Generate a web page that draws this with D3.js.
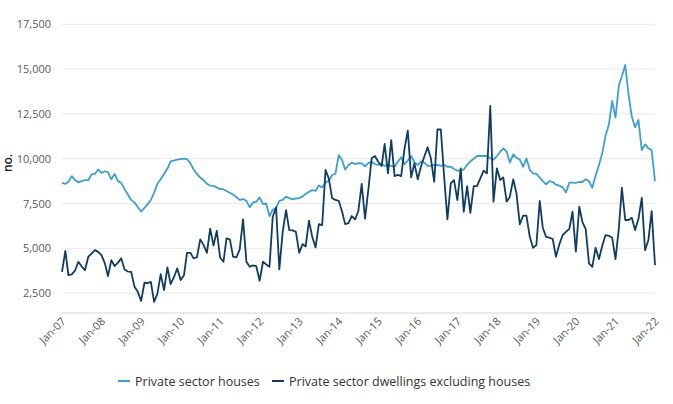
<!DOCTYPE html>
<html><head><meta charset="utf-8">
<script src="https://cdn.jsdelivr.net/npm/d3@7"></script>
<style>body{margin:0;background:#fff;}svg{display:block;font-family:"Open Sans","Noto Sans",sans-serif;}</style>
</head><body>
<svg id="c" width="673" height="404"></svg>
<script>
const startMonth = "2007-01";
const seriesNames = ["Private sector houses", "Private sector dwellings excluding houses"];
const houses = [
8650,8600,8700,9030,8810,8680,8750,8810,8800,9130,9150,9400,
9200,9300,9250,8850,9150,8750,8650,8300,8000,7700,7550,7300,
7050,7250,7450,7700,8100,8600,8850,9150,9450,9850,9900,9950,
9980,10000,9980,9750,9400,9150,8950,8800,8600,8500,8480,8400,
8300,8300,8200,8100,8000,7850,7700,7750,7650,7300,7550,7600,
7840,7470,7500,6800,7150,7250,7650,7700,7880,7800,7730,7780,
7800,7900,8030,8150,8250,8200,8510,8400,8660,8770,9090,9150,
10200,9920,9400,9650,9780,9700,9750,9740,9580,9750,9830,9700,
9650,9700,9600,9650,9600,9550,9830,10080,9700,9900,10150,9800,
9650,9850,9780,9600,9600,9650,9650,9600,9650,9550,9550,9430,
9330,9330,9400,9650,9850,10000,10150,10150,10150,10150,10020,9950,
10150,10390,10580,10400,9780,10240,10050,9950,9550,10020,9370,9180,
9150,8950,8750,8570,8750,8700,8550,8500,8400,8120,8660,8660,
8650,8700,8700,8850,8750,8380,9050,9650,10300,11300,11900,13220,
12290,14100,14600,15230,13600,12340,11750,12160,10480,10800,10580,10480,
8750];
const dwellings = [
3690,4850,3500,3550,3750,4250,4000,3780,4530,4700,4900,4800,
4620,4160,3450,4340,4010,4200,4440,3820,3700,3690,2850,2570,
2070,3080,3050,3130,2010,2480,3560,2670,3930,3000,3400,3880,
3230,3500,4750,4750,4440,4500,5500,5190,4750,6100,5150,5970,
4490,4250,5550,5500,4530,4500,4940,6610,4250,3970,4050,4000,
3190,4250,4100,3970,6760,7280,3820,5920,7130,6020,6000,5920,
4750,5230,5100,6540,5640,5050,6350,6300,9370,8900,7790,7700,
7650,7040,6350,6400,6800,6610,7080,8600,6650,8250,10020,10150,
9830,9590,10820,9180,11040,9030,9100,9030,10580,11560,8960,9740,
8850,9590,10110,10640,10020,8710,11630,11630,8990,6610,8620,8810,
7690,9460,7040,8470,6980,8470,8470,8900,9330,9180,12940,7600,
9460,8810,8960,7600,7880,8850,8070,6340,6820,6820,5640,5030,
5180,7640,6150,5640,5600,5520,4530,5220,5740,5920,6070,7040,
4810,7320,6480,6070,4160,3970,5030,4400,5140,5740,5700,5590,
4400,6110,8380,6580,6580,6700,6020,6630,7820,4900,5460,7080,
4060];
const yTicks = [2500,5000,7500,10000,12500,15000,17500];
const xTickYears = [2007,2008,2009,2010,2011,2012,2013,2014,2015,2016,2017,2018,2019,2020,2021,2022];
const colors = ["#3c9fd2", "#103d5f"];

(function () {
const svg = d3.select("#c");
const mLeft = 62, mRight = 655, mTop = 24.3, mBottom = 313;
const t0 = d3.timeParse("%Y-%m")(startMonth);
const dates = houses.map((_, i) => d3.timeMonth.offset(t0, i));
const x = d3.scaleTime().domain([dates[0], dates[dates.length-1]]).range([mLeft, mRight]);
const y = d3.scaleLinear().domain([1390, 17500]).range([mBottom, mTop]);

svg.append("g").selectAll("line").data(yTicks).join("line")
  .attr("x1", mLeft).attr("x2", mRight)
  .attr("y1", d => y(d)).attr("y2", d => y(d))
  .attr("stroke", "#e8e8e8").attr("stroke-width", 1);
svg.append("line").attr("x1", mLeft).attr("x2", mRight).attr("y1", mBottom).attr("y2", mBottom)
  .attr("stroke", "#e3e3e3").attr("stroke-width", 1.5);

const yAxis = d3.axisLeft(y).tickValues(yTicks).tickSize(0).tickPadding(0).tickFormat(d3.format(","));
const gy = svg.append("g").attr("transform", "translate(51,0)").call(yAxis);
gy.select(".domain").remove();
gy.selectAll("text").attr("fill", "#595959").style("font-size", "11px").style("font-family", "'Open Sans',sans-serif");

const xTicks = xTickYears.map(yr => new Date(yr, 0, 1));
const xAxis = d3.axisBottom(x).tickValues(xTicks).tickSize(0).tickFormat(d3.timeFormat("Jan-%y"));
const gx = svg.append("g").attr("transform", `translate(0,${mBottom})`).call(xAxis);
gx.select(".domain").remove();
gx.selectAll("text")
  .attr("fill", "#595959").style("font-size", "11px").style("font-family", "'Open Sans',sans-serif")
  .attr("text-anchor", "end").attr("dy", null).attr("y", 0)
  .attr("transform", "translate(4,9) rotate(-45)");

svg.append("text").attr("transform", "translate(12,163) rotate(-90)")
  .attr("text-anchor", "middle").attr("fill", "#222").style("font-size", "12px").style("font-weight", "600")
  .text("no.");

const line = d3.line().x((d, i) => x(dates[i])).y(d => y(d));
[houses, dwellings].forEach((s, k) => {
  svg.append("path").datum(s).attr("d", line).attr("fill", "none")
    .attr("stroke", colors[k]).attr("stroke-width", 1.8).attr("stroke-linejoin", "round");
});

const legend = svg.append("g");
const items = [{x: 118, name: seriesNames[0], c: colors[0]}, {x: 272, name: seriesNames[1], c: colors[1]}];
items.forEach(it => {
  legend.append("line").attr("x1", it.x).attr("x2", it.x + 12).attr("y1", 381).attr("y2", 381)
    .attr("stroke", it.c).attr("stroke-width", 2);
  legend.append("text").attr("x", it.x + 17).attr("y", 385.5).attr("fill", "#333")
    .style("font-size", "12.5px").text(it.name);
});
})();
</script>
</body></html>
